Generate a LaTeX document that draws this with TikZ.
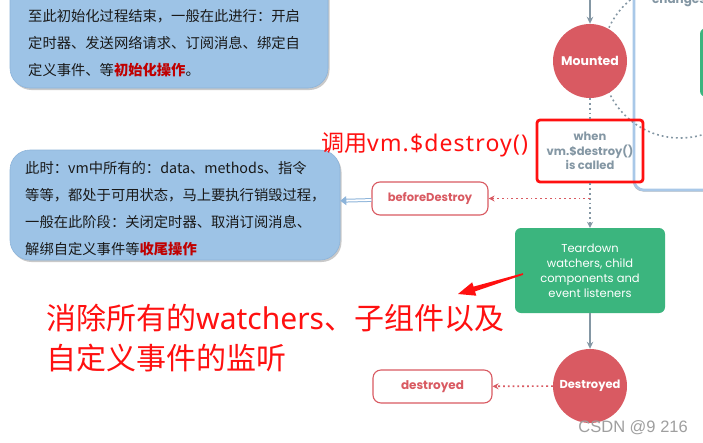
\documentclass[tikz,border=0pt]{standalone}
\usepackage{fontspec}
\newfontfamily\cjk{Noto Sans CJK SC}
\newfontfamily\pop{Poppins}
\newfontfamily\wmfont{Liberation Sans}
\newfontfamily\latinsans{Noto Sans}
\newfontfamily\latinwide[LetterSpace=5]{Noto Sans}
\usetikzlibrary{arrows.meta,shadows,calc}
\definecolor{boxblue}{HTML}{9DC3E6}
\definecolor{boxbluedraw}{HTML}{8DB4DA}
\definecolor{vred}{HTML}{D95A62}
\definecolor{vgreen}{HTML}{3BB57E}
\definecolor{vgray}{HTML}{8497A4}
\definecolor{annred}{HTML}{FF1010}
\definecolor{txtred}{HTML}{C00000}
\definecolor{panelblue}{HTML}{A9C8E8}
\begin{document}
\begin{tikzpicture}[x=1pt,y=-1pt,
  bluebox/.style={draw=boxbluedraw, fill=boxblue, rounded corners=20pt, line width=0.6pt,
    drop shadow={shadow xshift=1.5pt, shadow yshift=-2pt, fill=gray!70, opacity=0.6}},
  cjktext/.style={anchor=west, align=left, inner sep=0pt, text=black!90,
    font=\cjk\fontsize{14.3}{27}\selectfont},
  vcircle/.style={circle, fill=vred, minimum size=74pt, inner sep=0pt, text=white,
    font=\pop\bfseries\fontsize{12.5}{13}\selectfont},
  hookbox/.style={draw=vred, fill=white, rounded corners=8pt, line width=1.1pt, text=vred,
    font=\pop\bfseries\fontsize{11.5}{12}\selectfont, minimum height=33pt},
  solidarrow/.style={draw=vgray, line width=1.5pt, -{Stealth[length=7pt,width=6.5pt]}},
  dotline/.style={draw=vgray, line width=1.6pt, dash pattern=on 1.8pt off 3pt},
  reddot/.style={draw=vred, line width=1.6pt, dash pattern=on 1.8pt off 3pt,
    -{Stealth[length=6pt,width=6pt]}},
  anntext/.style={text=annred, inner sep=0pt, anchor=west, align=left}
]
\useasboundingbox (0,0) rectangle (703,442);
\clip (0,0) rectangle (703,442);
\fill[white] (0,0) rectangle (703,442);

% right panel (partly visible)
\node[draw=panelblue, line width=2.6pt, fill=white, rounded corners=10pt,
  minimum width=120pt, minimum height=220pt, inner sep=0pt,
  drop shadow={shadow xshift=-1pt, shadow yshift=-1.5pt, fill=gray!80, opacity=0.7}]
  (panel) at (694,80) {};
\node[fill=vgreen, rounded corners=6pt, minimum width=60pt, minimum height=69pt, inner sep=0pt]
  (greenbox) at (730,62.5) {};
\node[anchor=base west, inner sep=0pt, text=vgray, font=\pop\bfseries\fontsize{12}{12}\selectfont]
  (changes) at (652,3) {changes};

% dotted big circle
\draw[dotline] (680,60) circle (78);

% Mounted
\coordinate (topin) at (590,0);
\node[vcircle] (mounted) at (590,61) {Mounted};
\draw[solidarrow] (topin) -- (mounted);

% when ... (red annotation box)
\node[draw=annred, line width=2.8pt, rounded corners=3pt, minimum width=106pt, minimum height=62pt,
  inner sep=0pt, align=center, text=vgray, font=\pop\bfseries\fontsize{11.5}{14.5}\selectfont]
  (when) at (590,151) {when\\vm.\$destroy()\\is called};
\draw[dotline] (mounted) -- (when);

% Teardown
\node[fill=vgreen, rounded corners=6pt, minimum width=150pt, minimum height=85pt, inner sep=0pt,
  align=center, text=white, font=\pop\fontsize{11.5}{15}\selectfont]
  (teardown) at (590,270.5) {Teardown\\watchers, child\\components and\\event listeners};
\draw[dotline, -{Stealth[length=6pt,width=6pt]}] (when) -- (teardown);

% beforeDestroy
\node[hookbox, minimum width=116pt] (bd) at (430,198.5) {beforeDestroy};
\coordinate (bdsrc) at (590,198.5);
\draw[reddot] (bdsrc) -- (bd);

% Destroyed
\node[vcircle, font=\pop\bfseries\fontsize{11.5}{12}\selectfont] (destroyed) at (590,386) {Destroyed};
\draw[solidarrow] (teardown) -- (destroyed);
\node[hookbox, minimum width=119pt, font=\pop\bfseries\fontsize{12}{12}\selectfont] (dd) at (432.5,386.5) {destroyed};
\draw[reddot] (destroyed) -- (dd);

% blue box 1
\node[bluebox, minimum width=318pt, minimum height=110pt, inner sep=0pt] (b1) at (169,33) {};
\node[cjktext] (t1) at (28,43) {至此初始化过程结束，一般在此进行：开启\\定时器、发送网络请求、订阅消息、绑定自\\定义事件、等{\color{txtred}\bfseries 初始化操作}。};

% blue box 2
\node[bluebox, minimum width=330pt, minimum height=110pt, inner sep=0pt] (b2) at (175,205) {};
\node[cjktext] (t2) at (25,208.5) {此时：vm中所有的：data、methods、指令\\等等，都处于可用状态，马上要执行销毁过程，\\一般在此阶段：关闭定时器、取消订阅消息、\\解绑自定义事件等{\color{txtred}\bfseries 收尾操作}};
\draw[draw=boxbluedraw, line width=1pt, double=white, double distance=1.8pt,
  -{Triangle[length=6pt,width=9pt]}] (bd) -- (b2);

% annotations
\node[anchor=west, text=annred, inner sep=0pt, font=\cjk\fontsize{23}{24}\selectfont]
  (calltext) at (321,145) {调用{\latinwide vm.\$destroy()}};
\node[anntext, font=\cjk\fontsize{30}{40}\selectfont] (bigtext) at (46,338)
  {消除所有的{\latinsans watchers}、子组件以及\\自定义事件的监听};

\coordinate (arrtail) at (523,274);
\coordinate (arrtip) at (458,294);
\coordinate (ab) at ($(arrtip)!17pt!(arrtail)$);
\fill[annred] ($(arrtail)!0.8pt!90:(arrtip)$) -- ($(ab)!2.5pt!90:(arrtip)$) -- ($(ab)!7pt!90:(arrtip)$)
  -- (arrtip) -- ($(ab)!7pt!-90:(arrtip)$) -- ($(ab)!2.5pt!-90:(arrtip)$)
  -- ($(arrtail)!0.8pt!-90:(arrtip)$) -- cycle;

% watermark
\node[anchor=base east, inner sep=0pt, text=gray!75, font=\wmfont\fontsize{16.5}{18}\selectfont]
  (wm) at (688,432) {CSDN @9 216};
\end{tikzpicture}
\end{document}
